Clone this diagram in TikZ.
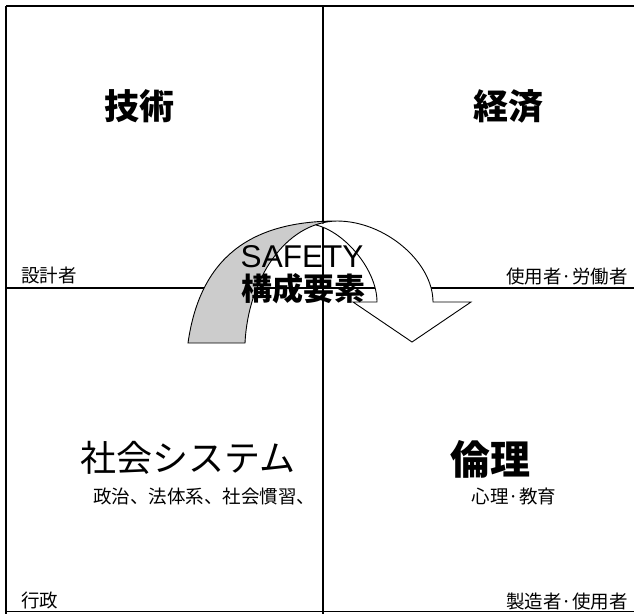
\documentclass[tikz,border=0pt]{standalone}
\usepackage{fontspec}
\setmainfont{Noto Sans CJK JP}
\newfontfamily\latinfont{Liberation Sans}
\begin{document}
\begin{tikzpicture}[x=1pt,y=-1pt,
  frameline/.style={line width=2.6pt,black},
  arrowline/.style={line width=0.9pt,black,line join=miter},
  bigbold/.style={inner sep=0pt,font=\fontsize{35}{37}\selectfont\bfseries},
  smalllabel/.style={inner sep=0pt,font=\fontsize{18.5}{20}\selectfont},
]
\useasboundingbox (0,0) rectangle (634,614);
% frame and quadrant lines
\draw[line width=2.8pt] (6,6) -- (634,6);
\draw[frameline] (6,6) -- (6,614);
\draw[line width=1.8pt] (6,611.5) -- (634,611.5);
\draw[frameline] (323,6) -- (323,614);
\draw[frameline] (6,288) -- (634,288);

% curved arrow: front (white) part
\filldraw[arrowline,fill=white] (337,221) .. controls (385,221) and (433,262) .. (433,302)
  -- (471,302) -- (412,342) -- (353,302) -- (377,302)
  .. controls (377,270) and (345,232) .. (316,225);
% curved arrow: back (gray) part
\filldraw[arrowline,fill=gray!40] (188,343) .. controls (200,258) and (250,221) .. (337,221)
  .. controls (285,222) and (248,280) .. (245,343) -- cycle;

% quadrant titles
\node[bigbold] (tech) at (139,106) {技術};
\node[bigbold] (econ) at (508,106) {経済};
\node[inner sep=0pt,font=\fontsize{36}{38}\selectfont] (soc) at (188,458) {社会システム};
\node[inner sep=0pt,font=\fontsize{40}{42}\selectfont\bfseries] (eth) at (490,459) {倫理};
\node[smalllabel] (socsub) at (204,496) {政治、法体系、社会慣習、};
\node[smalllabel] (ethsub) at (514,496) {心理·教育};

% corner labels
\node[smalllabel,anchor=west] (designer) at (21,275) {設計者};
\node[smalllabel,anchor=east] (user) at (628,276) {使用者·労働者};
\node[smalllabel,anchor=west] (admin) at (21,600) {行政};
\node[smalllabel,anchor=east] (maker) at (628,601) {製造者·使用者};

% centre text
\node[inner sep=0pt,anchor=base,font=\latinfont\fontsize{31.5}{33}\selectfont] (safety) at (302,267) {SAFETY};
\node[inner sep=0pt,font=\fontsize{31}{33}\selectfont\bfseries] (elements) at (303,289) {構成要素};
\end{tikzpicture}
\end{document}
